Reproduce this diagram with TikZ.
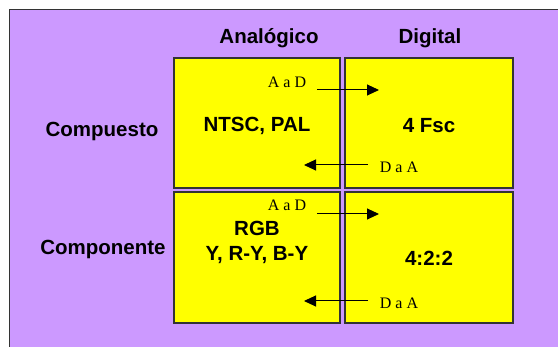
\documentclass[tikz,border=0pt]{standalone}
\usepackage{fontspec}
\setmainfont{Liberation Sans}
\newfontfamily\serifsmall{Liberation Serif}
\usetikzlibrary{arrows.meta}
\definecolor{bgpurple}{HTML}{CC99FF}
\definecolor{boxyellow}{HTML}{FFFF00}
\definecolor{edgegray}{HTML}{333333}
\tikzset{
  cell/.style={draw=edgegray, line width=1.5pt, fill=boxyellow, inner sep=0pt},
  big/.style={font=\fontsize{20.5}{24}\selectfont\bfseries, align=center, inner sep=0pt},
  small/.style={font=\serifsmall\fontsize{16}{18}\selectfont, inner sep=0pt},
  conv/.style={line width=1pt, -{Triangle[length=12pt,width=11pt]}}
}
\begin{document}
\begin{tikzpicture}[x=1pt,y=-1pt]
\useasboundingbox (0,0) rectangle (558,347);
\fill[white] (0,0) rectangle (558,347);
\draw[draw=edgegray, line width=1.5pt, fill=bgpurple] (9.5,9.5) rectangle (570,360);
% cells
\node[cell, minimum width=166pt, minimum height=130pt] (tl) at (257,123) {};
\node[cell, minimum width=168pt, minimum height=130pt] (tr) at (429,123) {};
\node[cell, minimum width=166pt, minimum height=131pt] (bl) at (257,257.5) {};
\node[cell, minimum width=168pt, minimum height=131pt] (br) at (429,257.5) {};
% headers
\node[big] (hana) at (269,38) {Analógico};
\node[big] (hdig) at (430,38) {Digital};
\node[big] (rcomp) at (102,131) {Compuesto};
\node[big] (rcomn) at (103,249) {Componente};
% contents
\node[big] (ntsc) at (257,126) {NTSC, PAL};
\node[big] (fsc) at (429,126) {4 Fsc};
\node[big, font=\fontsize{20.5}{25}\selectfont\bfseries] (rgb) at (257,242.5) {RGB\\Y, R-Y, B-Y};
\node[big] (f422) at (429,258) {4:2:2};
% converter labels
\node[small] (ad1) at (287,82) {A a D};
\node[small] (da1) at (399,167) {D a A};
\node[small] (ad2) at (287,205) {A a D};
\node[small] (da2) at (399,303) {D a A};
% arrows
\coordinate (a1s) at (317,90);
\coordinate (a1e) at (379,90);
\coordinate (a2s) at (368,165);
\coordinate (a2e) at (304,165);
\coordinate (a3s) at (317,214);
\coordinate (a3e) at (379,214);
\coordinate (a4s) at (368,301);
\coordinate (a4e) at (304,301);
\draw[conv] (a1s) -- (a1e);
\draw[conv] (a2s) -- (a2e);
\draw[conv] (a3s) -- (a3e);
\draw[conv] (a4s) -- (a4e);
\end{tikzpicture}
\end{document}
